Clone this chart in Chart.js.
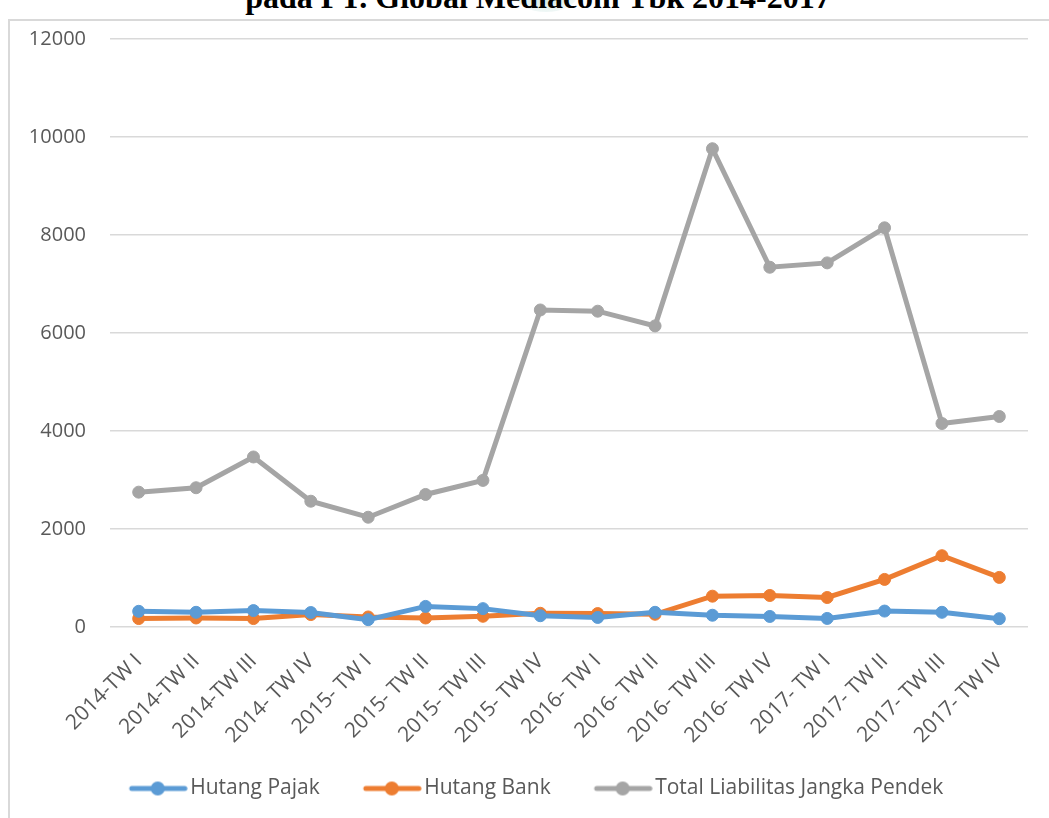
<!DOCTYPE html>
<html>
<head>
<meta charset="utf-8">
<script src="https://cdn.jsdelivr.net/npm/chart.js@4/dist/chart.umd.min.js"></script>
<style>
  html, body { margin: 0; padding: 0; background: #ffffff; overflow: hidden; }
  #wrap { position: relative; width: 1049px; height: 818px; overflow: hidden; }
  #blob { position: absolute; left: 515px; top: -22px; width: 62px; height: 34px; border-radius: 50%;
          background: radial-gradient(ellipse at center, rgba(190,222,218,0.75) 0%, rgba(215,235,232,0.5) 60%, rgba(255,255,255,0) 100%); }
  #title { position: absolute; left: 0; width: 1076px; top: -19px; text-align: center;
           font-family: "Liberation Serif", "Times New Roman", serif; font-weight: bold; font-size: 32px; line-height: 32px; color: #000; }
  #frame { position: absolute; left: 8px; top: 19px; width: 1100px; height: 900px; border-left: 2px solid #d9d9d9; border-top: 2px solid #d9d9d9; }
  #c { position: absolute; left: 0; top: 0; }
</style>
</head>
<body>
<div id="wrap">
  <div id="blob"></div>
  <div id="title">pada PT. Global Mediacom Tbk 2014-2017</div>
  <div id="frame"></div>
  <canvas id="c" width="1049" height="818"></canvas>
</div>
<script>
const categories = ['2014-TW I','2014-TW II','2014-TW III','2014- TW IV','2015- TW I','2015- TW II','2015- TW III','2015- TW IV','2016- TW I','2016- TW II','2016- TW III','2016- TW IV','2017- TW I','2017- TW II','2017- TW III','2017- TW IV'];
const hutangPajak = [320, 300, 335, 295, 150, 420, 375, 230, 195, 300, 240, 215, 175, 325, 300, 170];
const hutangBank = [172, 184, 172, 254, 205, 184, 219, 280, 274, 260, 629, 643, 602, 971, 1455, 1012];
const totalLiabilitas = [2752, 2842, 3470, 2567, 2240, 2705, 2992, 6470, 6445, 6145, 9760, 7342, 7431, 8147, 4153, 4296];
const yTicks = [0, 2000, 4000, 6000, 8000, 10000, 12000];
const seriesNames = ['Hutang Pajak', 'Hutang Bank', 'Total Liabilitas Jangka Pendek'];
const seriesColors = ['#5B9BD5', '#ED7D31', '#A5A5A5'];

const FONT = '"Open Sans", "Liberation Sans", sans-serif';
const TEXT = '#595959';

// legend marker: transparent lead-in on the left, then line with a dot
function legendMarker(color) {
  const cv = document.createElement('canvas');
  cv.width = 100; cv.height = 16;
  const g = cv.getContext('2d');
  g.strokeStyle = color; g.lineWidth = 5; g.lineCap = 'round';
  g.beginPath(); g.moveTo(44, 8); g.lineTo(97, 8); g.stroke();
  g.fillStyle = color; g.beginPath(); g.arc(70, 8, 7, 0, Math.PI * 2); g.fill();
  return cv;
}
const markers = seriesColors.map(legendMarker);

function ds(label, data, color) {
  return {
    label, data, yAxisID: 'y',
    borderColor: color, backgroundColor: color,
    borderWidth: 5, pointRadius: 6, pointHoverRadius: 6,
    pointBackgroundColor: color, pointBorderColor: color, pointBorderWidth: 1,
    tension: 0, fill: false
  };
}

new Chart(document.getElementById('c'), {
  type: 'line',
  data: {
    labels: categories,
    datasets: [
      ds(seriesNames[0], hutangPajak, seriesColors[0]),
      ds(seriesNames[1], hutangBank, seriesColors[1]),
      ds(seriesNames[2], totalLiabilitas, seriesColors[2])
    ]
  },
  options: {
    responsive: false,
    animation: false,
    devicePixelRatio: 1,
    layout: { padding: { left: 0, right: 10, top: 39, bottom: 9 } },
    plugins: {
      tooltip: { enabled: false },
      title: { display: false },
      legend: {
        position: 'bottom',
        labels: {
          usePointStyle: true,
          pointStyleWidth: 84,
          padding: 10,
          color: TEXT,
          font: { family: FONT, size: 21 },
          generateLabels(chart) {
            const items = Chart.defaults.plugins.legend.labels.generateLabels(chart);
            items.forEach((it, i) => { it.pointStyle = markers[i]; it.lineWidth = 0; });
            return items;
          }
        }
      }
    },
    scales: {
      x: {
        offset: true,
        grid: { display: false, drawTicks: false, offset: true },
        border: { display: false },
        ticks: { autoSkip: false, minRotation: 45, maxRotation: 45, padding: 22, color: TEXT, font: { family: FONT, size: 21 } },
        afterFit(s) { s.height = 141; }
      },
      y: {
        position: 'left',
        min: 0, max: 12000,
        grid: { color: '#d9d9d9', lineWidth: 1.5, drawTicks: false },
        border: { display: false },
        afterBuildTicks(s) { s.ticks = yTicks.map(v => ({ value: v })); },
        ticks: { padding: 24, color: TEXT, font: { family: FONT, size: 20 }, callback: v => String(v) },
        afterFit(s) { s.width = 110; }
      },
      yPad: {
        type: 'linear',
        position: 'right',
        display: true,
        grid: { display: false, drawTicks: false },
        border: { display: false },
        ticks: { display: false },
        afterFit(s) { s.width = 11; }
      }
    }
  }
});
</script>
</body>
</html>
